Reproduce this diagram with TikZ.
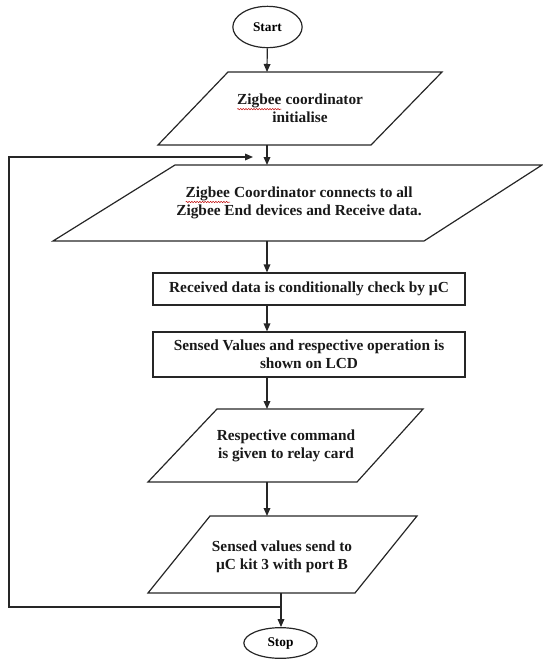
\documentclass[tikz,border=0pt]{standalone}
\usepackage{fontspec}
\setmainfont{Liberation Serif}
\usetikzlibrary{arrows.meta,shapes.geometric,decorations.pathmorphing}
\newcommand{\redwave}[1]{\tikz[baseline=(w.base)]{\node[inner sep=0pt, outer sep=0pt] (w) {#1};\draw[red!75!black, line width=0.35pt, decorate, decoration={snake, amplitude=0.5pt, segment length=2pt}] ([yshift=-0.6pt]w.south west) -- ([yshift=-0.6pt]w.south east);}}
\tikzset{
  line/.style={draw=black!85, line width=0.9pt},
  arr/.style={line, -{Triangle[length=6pt,width=5pt]}},
  txt/.style={font=\fontsize{11.5}{13.2}\selectfont\bfseries, align=center, inner sep=0pt, text=black!90},
  term/.style={ellipse, line, inner sep=0pt, font=\fontsize{10}{12}\selectfont\bfseries},
  boxnode/.style={rectangle, line, inner sep=0pt, minimum width=234pt, txt}
}
\begin{document}
\begin{tikzpicture}[x=0.75pt,y=-0.75pt]
\useasboundingbox (0,0) rectangle (543,662);
% terminals
\node[term, minimum width=52pt, minimum height=31pt] (start) at (267.5,27) {Start};
\node[term, minimum width=55pt, minimum height=23pt] (stop) at (280.5,643) {Stop};
% parallelograms
\draw[line] (228,72) -- (442,72) -- (371,145) -- (158,145) -- cycle;
\node[txt] (p1) at (300,108.5) {\redwave{Zigbee} coordinator\\initialise};
\draw[line] (175,165) -- (542,165) -- (424,241) -- (53,241) -- cycle;
\node[txt] (p2) at (299,203) {\redwave{Zigbee} Coordinator connects to all\\Zigbee End devices and Receive data.};
\draw[line] (217,409) -- (423,409) -- (357,482) -- (148,482) -- cycle;
\node[txt] (p3) at (286,446) {Respective command\\is given to relay card};
\draw[line] (210,516) -- (417,516) -- (355,593) -- (148,593) -- cycle;
\node[txt] (p4) at (282,557) {Sensed values send to\\µC kit 3 with port B};
% rectangles
\node[boxnode, minimum height=24pt] (r1) at (309,289) {Received data is conditionally check by µC};
\node[boxnode, minimum height=33.75pt] (r2) at (309,354.5) {Sensed Values and respective operation is\\shown on LCD};
% connector points
\coordinate (p1t) at (267,72);
\coordinate (p1b) at (267,145);
\coordinate (p2t) at (267,165);
\coordinate (p2b) at (267,241);
\coordinate (p3t) at (267,409);
\coordinate (p3b) at (267,482);
\coordinate (p4t) at (267,516);
\coordinate (p4b) at (281,593);
\coordinate (j) at (281,607);
\coordinate (lb) at (9,607);
\coordinate (lt) at (9,157);
\coordinate (le) at (253,157);
% connectors
\draw[arr] (start) -- (p1t);
\draw[arr] (p1b) -- (p2t);
\draw[arr] (p2b) -- (p2b |- r1.north);
\draw[arr] (p2b |- r1.south) -- (p2b |- r2.north);
\draw[arr] (p2b |- r2.south) -- (p3t);
\draw[arr] (p3b) -- (p4t);
\draw[arr] (p4b) -- (p4b |- stop.north);
\draw[arr] (j) -- (lb) -- (lt) -- (le);
\end{tikzpicture}
\end{document}
